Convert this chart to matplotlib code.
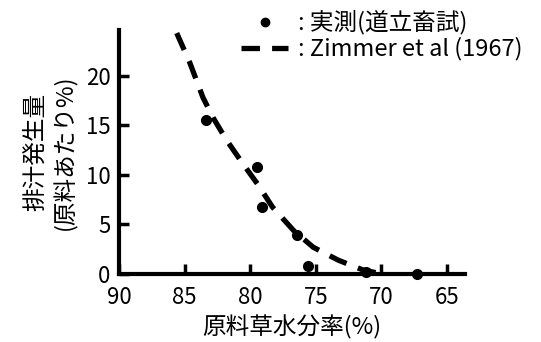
import matplotlib
matplotlib.use("Agg")
from matplotlib import pyplot as plt
from matplotlib.lines import Line2D

plt.rcParams['font.family'] = ['Noto Sans CJK JP', 'DejaVu Sans']

# 実測(道立畜試)
mes_x = [83.4, 79.5, 79.1, 76.4, 75.6, 71.2, 67.3]
mes_y = [15.5, 10.8, 6.8, 3.9, 0.8, 0.2, 0.0]

# Zimmer et al (1967)
zim_x = [85.6, 84.6, 83.6, 82.8, 81.8, 80.6, 79.4, 78.3, 76.7, 75.2, 73.3, 71.4, 70.3]
zim_y = [24.3, 21.3, 17.8, 15.7, 13.5, 11.2, 9.0, 6.75, 4.4, 2.7, 1.4, 0.4, 0.1]

xticks = [90, 85, 80, 75, 70, 65]
yticks = [0, 5, 10, 15, 20]

fig = plt.figure(figsize=(5.41, 3.42), dpi=100)
ax = fig.add_axes([0.22, 0.199, 0.64, 0.713])

ax.plot(zim_x, zim_y, color='black', lw=3.8, dashes=(3.5, 2.3), solid_capstyle='butt')
ax.plot(mes_x, mes_y, 'o', color='black', ms=7, clip_on=False)

ax.set_xlim(90, 63.6)
ax.set_ylim(0, 24.6)
ax.set_xticks(xticks)
ax.set_yticks(yticks)
ax.tick_params(direction='in', length=7, width=2.5, labelsize=16)
ax.tick_params(axis='x', pad=9)
ax.tick_params(axis='y', pad=6)
for s in ['top', 'right']:
    ax.spines[s].set_visible(False)
for s in ['left', 'bottom']:
    ax.spines[s].set_linewidth(3)

ax.set_xlabel('原料草水分率(%)', fontsize=17, labelpad=4)
ax.set_ylabel('排汁発生量\n(原料あたり%)', fontsize=17, labelpad=6, linespacing=1.35)

handles = [Line2D([], [], ls='none', marker='o', color='black', ms=6),
           Line2D([], [], color='black', lw=3.8, dashes=(3.5, 2.3))]
ax.legend(handles, [': 実測(道立畜試)', ': Zimmer et al (1967)'],
          loc='upper left', bbox_to_anchor=(0.325, 1.12), frameon=False,
          fontsize=17, handlelength=2.0, handletextpad=0.4, labelspacing=0.1,
          borderaxespad=0)

fig.savefig('out.png', dpi=100)
